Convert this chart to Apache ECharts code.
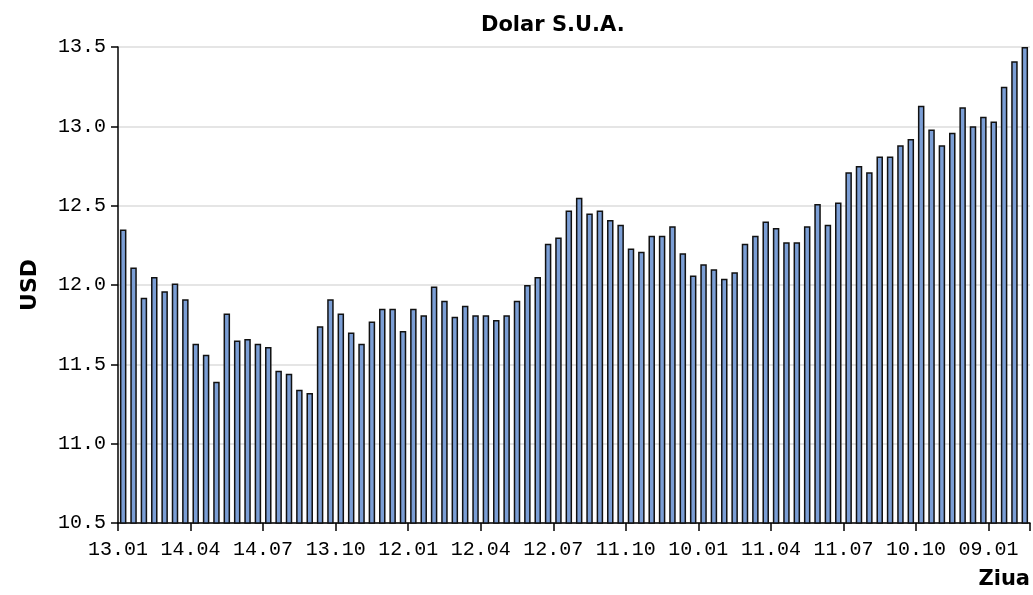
<!DOCTYPE html>
<html>
<head>
<meta charset="utf-8">
<title>Dolar S.U.A.</title>
<script src="https://cdn.jsdelivr.net/npm/echarts@6/dist/echarts.min.js"></script>
<style>
  html, body { margin: 0; padding: 0; background: #fff; }
  #chart { width: 1033px; height: 595px; }
</style>
</head>
<body>
<div id="chart"></div>
<script>
// USD exchange rate, one bar per reading
var values = [
  12.35, 12.11, 11.92, 12.05, 11.96, 12.01, 11.91, 11.63, 11.56, 11.39,
  11.82, 11.65, 11.66, 11.63, 11.61, 11.46, 11.44, 11.34, 11.32, 11.74,
  11.91, 11.82, 11.70, 11.63, 11.77, 11.85, 11.85, 11.71, 11.85, 11.81,
  11.99, 11.90, 11.80, 11.87, 11.81, 11.81, 11.78, 11.81, 11.90, 12.00,
  12.05, 12.26, 12.30, 12.47, 12.55, 12.45, 12.47, 12.41, 12.38, 12.23,
  12.21, 12.31, 12.31, 12.37, 12.20, 12.06, 12.13, 12.10, 12.04, 12.08,
  12.26, 12.31, 12.40, 12.36, 12.27, 12.27, 12.37, 12.51, 12.38, 12.52,
  12.71, 12.75, 12.71, 12.81, 12.81, 12.88, 12.92, 13.13, 12.98, 12.88,
  12.96, 13.12, 13.00, 13.06, 13.03, 13.25, 13.41, 13.50
];

// labels shown every 7 bars, on the boundaries
var tickLabels = [
  "13.01", "14.04", "14.07", "13.10", "12.01", "12.04", "12.07",
  "11.10", "10.01", "11.04", "11.07", "10.10", "09.01"
];
var tickEvery = 7;

var categories = values.map(function (v, i) { return String(i + 1); });
var tickPositions = tickLabels.map(function (t, i) { return i * tickEvery; });

var monoFont = "Liberation Mono";

var chart = echarts.init(document.getElementById("chart"));

chart.setOption({
  animation: false,
  title: {
    text: "Dolar S.U.A.",
    left: 476,
    top: 10,
    textStyle: { fontFamily: "DejaVu Sans", fontWeight: "bold", fontSize: 21, color: "#000" }
  },
  grid: { left: 118, right: 3, top: 47, bottom: 72 },
  xAxis: [
    {
      type: "category",
      data: categories,
      boundaryGap: true,
      axisLine: { lineStyle: { color: "#000", width: 1.5 } },
      axisTick: { show: true, interval: tickEvery - 1, length: 8, lineStyle: { color: "#000", width: 1.5 } },
      axisLabel: { show: false },
      splitLine: { show: false }
    },
    {
      // value axis used only to place the labels on the band boundaries
      type: "value",
      position: "bottom",
      min: 0,
      max: values.length,
      interval: tickEvery,
      axisLine: { show: false },
      axisTick: { show: false },
      splitLine: { show: false },
      axisLabel: {
        customValues: tickPositions,
        margin: 17,
        fontFamily: monoFont,
        fontSize: 20,
        color: "#000",
        formatter: function (v) { return tickLabels[Math.round(v / tickEvery)] || ""; }
      },
      name: "Ziua",
      nameLocation: "end",
      nameGap: 0,
      nameTextStyle: {
        fontFamily: "DejaVu Sans", fontWeight: "bold", fontSize: 21, color: "#000",
        align: "right", verticalAlign: "top", padding: [46, 0, 0, 0]
      }
    }
  ],
  yAxis: {
    type: "value",
    min: 10.5,
    max: 13.5,
    interval: 0.5,
    name: "USD",
    nameLocation: "middle",
    nameGap: 77,
    nameRotate: 90,
    nameTextStyle: { fontFamily: "DejaVu Sans", fontWeight: "bold", fontSize: 22, color: "#000" },
    axisLine: { show: true, lineStyle: { color: "#000", width: 1.5 } },
    axisTick: { show: true, length: 7, lineStyle: { color: "#000", width: 1.5 } },
    axisLabel: {
      margin: 12,
      fontFamily: monoFont,
      fontSize: 20,
      color: "#000",
      formatter: function (v) { return v.toFixed(1); }
    },
    splitLine: { show: true, lineStyle: { color: "#dddddd", width: 1.5 } }
  },
  series: [
    {
      type: "bar",
      data: values,
      xAxisIndex: 0,
      barWidth: 6.5,
      itemStyle: { color: "#7b9ed5", borderColor: "#111", borderWidth: 1.5 }
    }
  ]
});
</script>
</body>
</html>
